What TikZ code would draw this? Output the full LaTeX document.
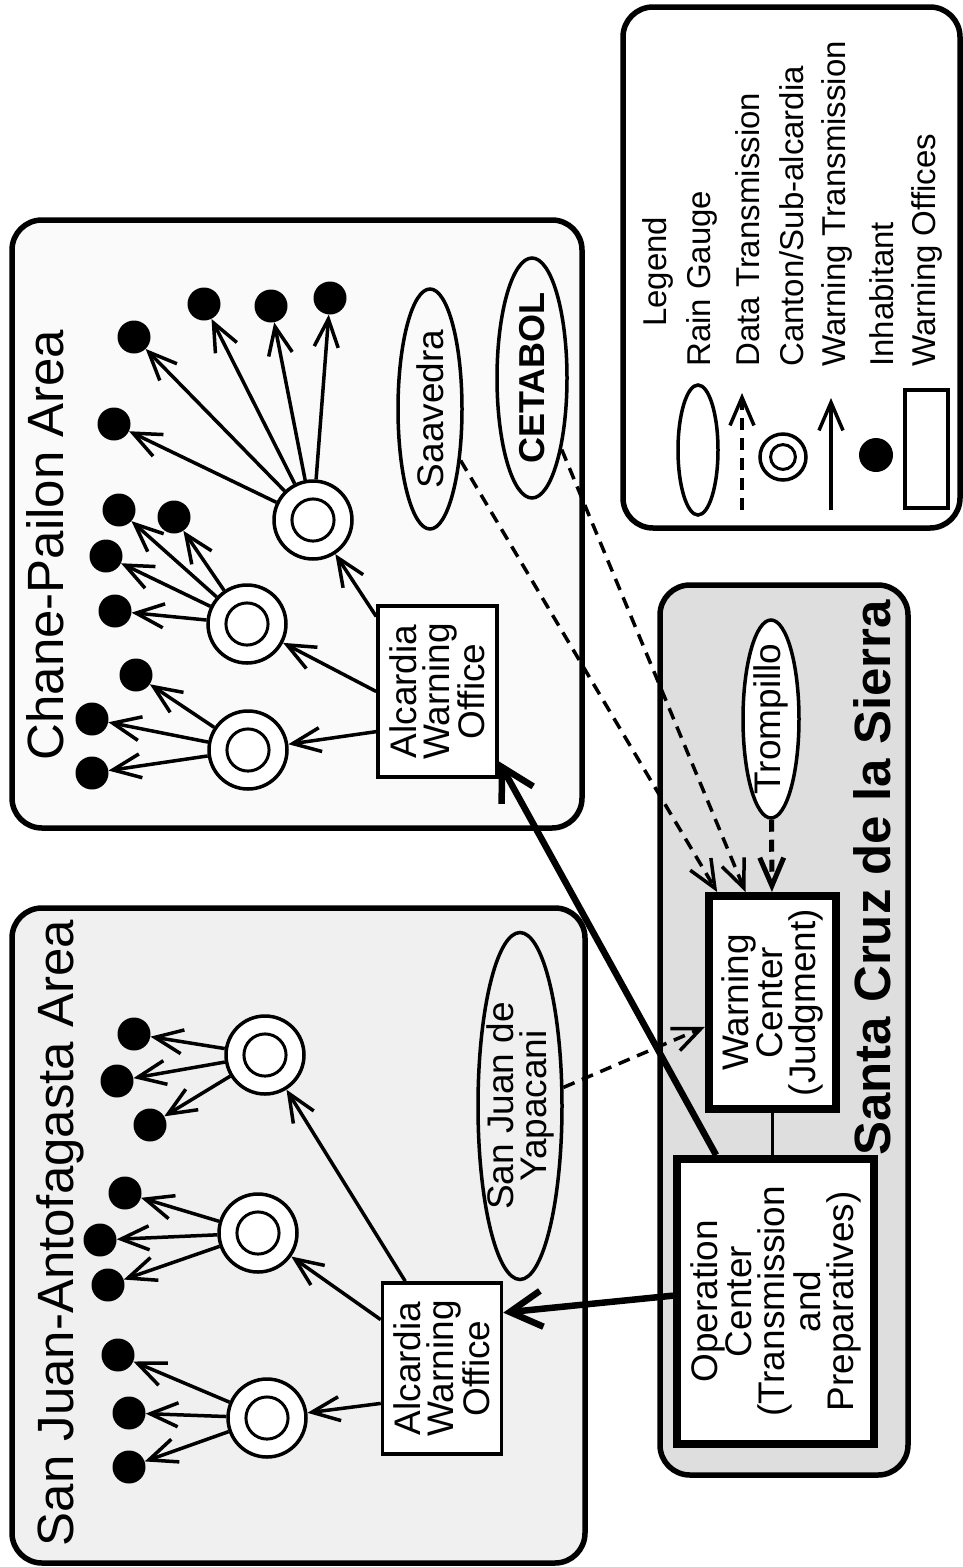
\documentclass[tikz,border=0pt]{standalone}
\usepackage{fontspec}
\setmainfont{Liberation Sans}
\usepackage{tikz}
\usetikzlibrary{arrows.meta,calc,shapes.geometric}
\definecolor{chanebg}{gray}{0.98}
\definecolor{sjbg}{gray}{0.94}
\definecolor{scbg}{gray}{0.87}
\newcommand\titlefont{\fontsize{51}{55}\selectfont}
\newcommand\boxfont{\fontsize{37}{33}\selectfont}
\newcommand\legfont{\fontsize{33}{36}\selectfont}

\begin{document}
\begin{tikzpicture}[x=1pt,y=-1pt,>={Straight Barb[length=28pt,width=24pt]},
  area/.style={draw,line width=5.5pt,rounded corners=30pt},
  gtext/.style={rotate=90,font=\boxfont,align=center,inner sep=0pt},
  office/.style={draw,line width=3.5pt,fill=white,inner sep=0pt,minimum width=119pt,minimum height=171pt},
  hub/.style={draw,line width=8pt,fill=white,inner sep=0pt},
  gauge/.style={ellipse,draw,line width=3.5pt,inner sep=0pt},
  canton/.style={circle,draw,fill=white,line width=3.5pt,inner sep=0pt,minimum size=2*#1,
    path picture={\draw[line width=3pt] (path picture bounding box.center) circle (0.54*#1);}},
  canton/.default=39pt,
  inhab/.style={circle,fill=black,inner sep=0pt,minimum size=33pt},
  warn/.style={->,line width=3.5pt},
  data/.style={->,line width=3.5pt,dash pattern=on 12pt off 8pt},
  main/.style={-{Straight Barb[length=32pt,width=36pt]},line width=6.5pt},
  legtext/.style={rotate=90,anchor=west,font=\legfont,inner sep=0pt}]
  \useasboundingbox (0,0) rectangle (963,1567);
  % areas
  \draw[area,fill=chanebg] (12,220) rectangle (582,828);
  \draw[area,fill=sjbg] (12,908) rectangle (585,1563);
  \draw[area,fill=scbg] (660,585) rectangle (908,1475);
  \draw[area,fill=white] (623,7) rectangle (960,528);
  \node[rotate=90,font=\titlefont] (tChane) at (45,545) {Chane-Pailon Area};
  \node[rotate=90,font=\titlefont] (tSanJuan) at (60,1233) {San Juan-Antofagasta Area};
  \node[rotate=90,font=\titlefont\bfseries] (tSanta) at (872,878) {Santa Cruz de la Sierra};

  % rain gauges
  \node[gauge,minimum width=64pt,minimum height=240pt,label={[gtext]center:Saavedra}] (sav) at (430,409) {};
  \node[gauge,minimum width=70pt,minimum height=240pt,label={[gtext,font=\fontsize{36}{33}\selectfont\bfseries]center:CETABOL}] (cet) at (532,378) {};
  \node[gauge,fill=white,minimum width=56pt,minimum height=198pt,label={[gtext]center:Trompillo}] (tro) at (771,719) {};
  \node[gauge,minimum width=84pt,minimum height=347pt,label={[gtext]center:{San Juan de\\Yapacani}}] (yap) at (520,1106) {};

  % offices
  \node[office,label={[gtext]center:{Alcardia\\Warning\\Office}}] (ofC) at (437.5,691.5) {};
  \node[office,label={[gtext]center:{Alcardia\\Warning\\Office}}] (ofS) at (442,1368.5) {};
  \node[hub,minimum width=127pt,minimum height=213pt,label={[gtext]center:{Warning\\Center\\(Judgment)}}] (wc) at (772.5,1002.5) {};
  \node[hub,minimum width=197pt,minimum height=285pt,label={[gtext]center:{Operation\\Center\\(Transmission\\and\\Preparatives)}}] (op) at (775.5,1301.5) {};

  % cantons and inhabitants, Chane-Pailon
  \node[canton] (cA) at (248,750) {};
  \node[canton] (cB) at (247,624) {};
  \node[canton] (cC) at (313,520) {};
  \node[inhab] (a1) at (92,773) {};  \draw[warn] (cA) -- (a1);
  \node[inhab] (a2) at (92,719) {};  \draw[warn] (cA) -- (a2);
  \node[inhab] (a3) at (136,675) {}; \draw[warn] (cA) -- (a3);
  \node[inhab] (b1) at (115,611) {}; \draw[warn] (cB) -- (b1);
  \node[inhab] (b2) at (106,556) {}; \draw[warn] (cB) -- (b2);
  \node[inhab] (b3) at (119,510) {}; \draw[warn] (cB) -- (b3);
  \node[inhab] (b4) at (174,517) {}; \draw[warn] (cB) -- (b4);
  \node[inhab] (c1) at (114,424) {}; \draw[warn] (cC) -- (c1);
  \node[inhab] (c2) at (134,337) {}; \draw[warn] (cC) -- (c2);
  \node[inhab] (c3) at (204,304) {}; \draw[warn] (cC) -- (c3);
  \node[inhab] (c4) at (271,306) {}; \draw[warn] (cC) -- (c4);
  \node[inhab] (c5) at (330,298) {}; \draw[warn] (cC) -- (c5);
  \draw[warn] ($(ofC.south west)!0.27!(ofC.north west)$) -- (cA);
  \draw[warn] (ofC.west) -- (cB);
  \draw[warn] ($(ofC.north west)!0.07!(ofC.south west)$) -- (cC);

  % cantons and inhabitants, San Juan-Antofagasta
  \node[canton] (sA) at (265,1055) {};
  \node[canton] (sB) at (258,1233) {};
  \node[canton] (sC) at (267,1418) {};
  \node[inhab] (d1) at (134,1034) {}; \draw[warn] (sA) -- (d1);
  \node[inhab] (d2) at (117,1081) {}; \draw[warn] (sA) -- (d2);
  \node[inhab] (d3) at (150,1125) {}; \draw[warn] (sA) -- (d3);
  \node[inhab] (e1) at (125,1193) {}; \draw[warn] (sB) -- (e1);
  \node[inhab] (e2) at (100,1240) {}; \draw[warn] (sB) -- (e2);
  \node[inhab] (e3) at (108,1285) {}; \draw[warn] (sB) -- (e3);
  \node[inhab] (f1) at (118,1355) {}; \draw[warn] (sC) -- (f1);
  \node[inhab] (f2) at (129,1413) {}; \draw[warn] (sC) -- (f2);
  \node[inhab] (f3) at (129,1467) {}; \draw[warn] (sC) -- (f3);
  \draw[warn] ($(ofS.north west)!0.2!(ofS.north east)$) -- (sA);
  \draw[warn] ($(ofS.north west)!0.22!(ofS.south west)$) -- (sB);
  \draw[warn] ($(ofS.north west)!0.7!(ofS.south west)$) -- (sC);

  % data transmission
  \coordinate (wcA) at ($(wc.north west)!0.09!(wc.north east)$);
  \coordinate (wcB) at ($(wc.north west)!0.3!(wc.north east)$);
  \coordinate (wcY) at ($(wc.north west)!0.61!(wc.south west)$);
  \draw[data] (sav) -- (wcA);
  \draw[data] (cet) -- (wcB);
  \draw[data,line width=5pt] (tro) -- (wc);
  \draw[data] (yap) -- (wcY);
  \draw[line width=3.5pt] (wc.south) -- (wc.south |- op.north);

  % warning transmission from the operation center
  \draw[main] ($(op.north west)!0.21!(op.north east)$) -- ($(ofC.north east)!0.9!(ofC.south east)$);
  \draw[main] ($(op.north west)!0.48!(op.south west)$) -- ($(ofS.north east)!0.18!(ofS.south east)$);

  % legend
  \node[rotate=90,anchor=west,font=\legfont,inner sep=0pt] (lgHead) at (658,327) {Legend};
  \node[legtext] (lgT1) at (702,367) {Rain Gauge};
  \node[legtext] (lgT2) at (748,367) {Data Transmission};
  \node[legtext] (lgT3) at (792,367) {Canton/Sub-alcardia};
  \node[legtext] (lgT4) at (837,367) {Warning Transmission};
  \node[legtext] (lgT5) at (882,367) {Inhabitant};
  \node[legtext] (lgT6) at (927,367) {Warning Offices};
  \node[gauge,minimum width=40pt,minimum height=130pt] (lgR) at (698,450) {};
  \coordinate (lgD0) at (742,510);
  \coordinate (lgD1) at (742,393);
  \draw[data] (lgD0) -- (lgD1);
  \node[canton=23pt] (lgC) at (783,457) {};
  \coordinate (lgW0) at (831,510);
  \coordinate (lgW1) at (831,398);
  \draw[warn] (lgW0) -- (lgW1);
  \node[inhab,minimum size=34pt] (lgI) at (876,455) {};
  \node[draw,line width=3.5pt,inner sep=0pt,minimum width=43pt,minimum height=118pt] (lgO) at (926.5,449) {};
\end{tikzpicture}
\end{document}
